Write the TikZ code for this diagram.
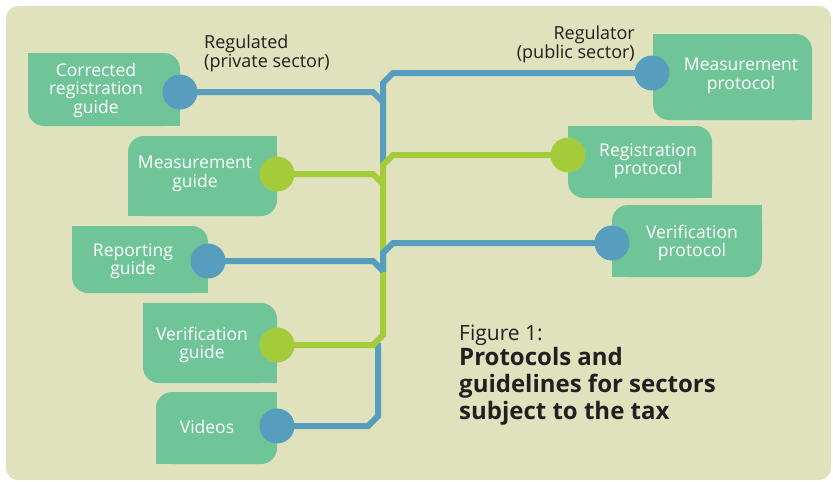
\documentclass[tikz,border=0pt]{standalone}
\usepackage{fontspec}
\setmainfont{Open Sans}
\definecolor{bg}{HTML}{DFE2BD}
\definecolor{boxgreen}{HTML}{6FC598}
\definecolor{lineblue}{HTML}{579EBE}
\definecolor{linegreen}{HTML}{A3CB3A}
\definecolor{darktext}{HTML}{231F20}
\begin{document}
\begin{tikzpicture}[x=1pt,y=-1pt,
  box/.style={fill=boxgreen,rounded corners=16,inner sep=0},
  boxtext/.style={text=white,align=center,inner sep=0,font=\fontsize{17.5}{18.5}\selectfont},
  bdot/.style={circle,fill=lineblue,minimum size=35,inner sep=0},
  gdot/.style={circle,fill=linegreen,minimum size=35,inner sep=0},
  bline/.style={draw=lineblue,line width=6},
  gline/.style={draw=linegreen,line width=6},
  note/.style={text=darktext,inner sep=0,font=\fontsize{18}{19}\selectfont}]
  \useasboundingbox (0,0) rectangle (833,482);
  \fill[bg,rounded corners=12] (6,6) rectangle (831,480);

  % regulated side
  \node (cg) at (104,89.5) [box,minimum width=152,minimum height=73]{};
  \fill[boxgreen] (cg.north west) rectangle ++(20,20);
  \fill[boxgreen] (cg.south east) rectangle ++(-20,-20);
  \node (mg) at (202.5,176) [box,minimum width=149,minimum height=80]{};
  \fill[boxgreen] (mg.north east) rectangle ++(-20,20);
  \fill[boxgreen] (mg.south west) rectangle ++(20,-20);
  \node (rg) at (140,259.5) [box,minimum width=136,minimum height=67]{};
  \fill[boxgreen] (rg.north west) rectangle ++(20,20);
  \fill[boxgreen] (rg.south east) rectangle ++(-20,-20);
  \node (vg) at (210,343) [box,minimum width=134,minimum height=80]{};
  \fill[boxgreen] (vg.north west) rectangle ++(20,20);
  \fill[boxgreen] (vg.south east) rectangle ++(-20,-20);
  \node (vd) at (216.5,428) [box,minimum width=121,minimum height=72]{};
  \fill[boxgreen] (vd.north east) rectangle ++(-20,20);
  \fill[boxgreen] (vd.south west) rectangle ++(20,-20);

  % regulator side
  \node (mp) at (732.5,77) [box,minimum width=159,minimum height=86]{};
  \fill[boxgreen] (mp.north west) rectangle ++(20,20);
  \fill[boxgreen] (mp.south east) rectangle ++(-20,-20);
  \node (rp) at (640,162) [box,minimum width=144,minimum height=72]{};
  \fill[boxgreen] (rp.north west) rectangle ++(20,20);
  \fill[boxgreen] (rp.south east) rectangle ++(-20,-20);
  \node (vp) at (687,241) [box,minimum width=150,minimum height=72]{};
  \fill[boxgreen] (vp.north east) rectangle ++(-20,20);
  \fill[boxgreen] (vp.south west) rectangle ++(20,-20);

  \node (cgt) at (96,90) [boxtext]{Corrected\\registration\\guide};
  \node (mgt) at (195,174) [boxtext]{Measurement\\guide};
  \node (rgt) at (133,261) [boxtext]{Reporting\\guide};
  \node (vgt) at (202,345) [boxtext]{Verification\\guide};
  \node (vdt) at (207,427) [boxtext]{Videos};
  \node (mpt) at (741,76) [boxtext]{Measurement\\protocol};
  \node (rpt) at (648,161) [boxtext]{Registration\\protocol};
  \node (vpt) at (692,243) [boxtext]{Verification\\protocol};

  % line ends
  \coordinate (cgp) at (180,92);
  \coordinate (mgp) at (277,174);
  \coordinate (rgp) at (208,261);
  \coordinate (vgp) at (277,345);
  \coordinate (vdp) at (277,426);
  \coordinate (mpp) at (652,73);
  \coordinate (rpp) at (568,155);
  \coordinate (vpp) at (612,243);

  % trunk lines
  \draw[bline] (vdp) -- (368,426) -- (378,416) -- (378,343);
  \draw[bline] (mpp) -- (393,73) -- (383,83) -- (383,166);
  \draw[bline] (cgp) -- (373,92) -- (383,102);
  \draw[gline] (rpp) -- (393,155) -- (383,165) -- (383,335) -- (373,345) -- (vgp);
  \draw[gline] (mgp) -- (373,174) -- (383,184);
  \draw[bline] (vpp) -- (393,243) -- (383,253) -- (383,272);
  \draw[bline] (rgp) -- (373,261) -- (383,271);

  \node (cgd) at (cgp) [bdot]{};
  \node (mgd) at (mgp) [gdot]{};
  \node (rgd) at (rgp) [bdot]{};
  \node (vgd) at (vgp) [gdot]{};
  \node (vdd) at (vdp) [bdot]{};
  \node (mpd) at (mpp) [bdot]{};
  \node (rpd) at (rpp) [gdot]{};
  \node (vpd) at (vpp) [bdot]{};

  \node (regd) at (204,35) [note,anchor=north west,align=left]{Regulated\\(private sector)};
  \node (regr) at (635,26) [note,anchor=north east,align=right]{Regulator\\(public sector)};

  \node (fig) at (459,325) [anchor=north west,inner sep=0,text=darktext,font=\fontsize{21}{25}\selectfont]{Figure 1:};
  \node (title) at (459,347) [anchor=north west,inner sep=0,align=left,text=darktext,font=\bfseries\fontsize{24}{27}\selectfont]{Protocols and\\guidelines for sectors\\subject to the tax};
\end{tikzpicture}
\end{document}
